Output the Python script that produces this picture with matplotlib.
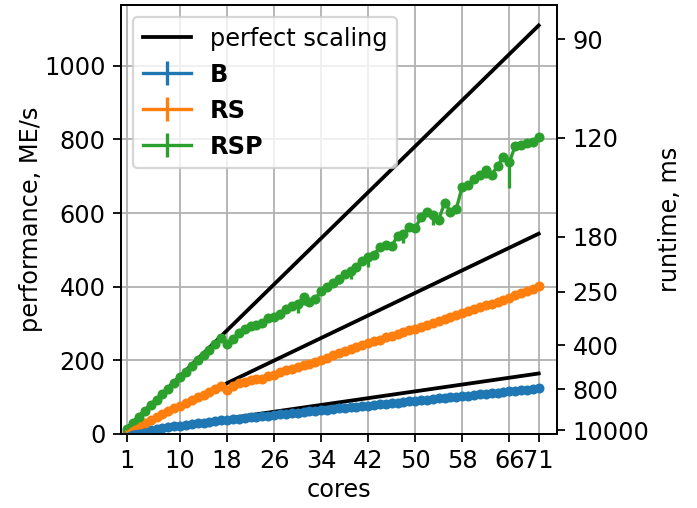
import matplotlib
matplotlib.use("Agg")
import matplotlib.pyplot as plt
import numpy as np

plt.rcParams["font.size"] = 10.8
plt.rcParams["lines.linewidth"] = 1.5

# ---- data ------------------------------------------------------------------
cores = np.arange(1, 72)

perf_B = [2.3, 4.6, 6.8, 9.0, 11.2, 13.4, 15.6, 17.8, 20.0, 22.2,
          24.4, 26.5, 28.6, 30.7, 32.7, 34.7, 36.7, 38.5, 40.1, 41.6,
          43.3, 44.9, 46.4, 48.1, 49.7, 51.3, 52.8, 54.5, 56.1, 57.6,
          59.3, 60.9, 62.5, 64.1, 65.6, 67.3, 68.9, 70.5, 72.0, 73.7,
          75.3, 76.9, 78.4, 80.1, 81.7, 83.3, 84.8, 86.5, 88.1, 89.7,
          91.2, 92.9, 94.5, 96.1, 97.6, 99.3, 100.9, 102.5, 104.0, 105.7,
          107.3, 108.9, 110.4, 112.1, 113.7, 115.3, 116.8, 118.5, 120.1, 121.7,
          123.3]

perf_RS = [7.5, 15, 23, 30, 38, 46, 53, 61, 69, 76,
           84, 91, 99, 106, 114, 122, 130, 119, 130, 137,
           142, 147, 149, 150, 156, 161, 168, 173, 176, 181,
           187, 191, 195, 200, 206, 213, 220, 226, 231, 236,
           241, 246, 251, 256, 262, 267, 272, 277, 281, 285,
           291, 296, 302, 307, 313, 318, 323, 328, 333, 339,
           344, 349, 354, 359, 364, 370, 376, 382, 388, 394,
           402]

perf_RSP = [14, 30, 46, 61, 77, 92, 108, 123, 139, 154,
            169, 185, 200, 214, 229, 244, 260, 244, 258, 274,
            284, 294, 297, 301, 316, 318, 326, 340, 348, 352,
            372, 358, 366, 388, 398, 410, 422, 434, 442, 452,
            470, 480, 487, 508, 514, 510, 538, 543, 562, 560,
            588, 604, 596, 582, 628, 604, 612, 672, 675, 692,
            704, 716, 704, 728, 752, 738, 782, 786, 790, 794,
            806]

# lower error (mean - min) of the RSP runs; all other spreads are tiny
err_RSP = [0, 0, 0, 0, 0, 0, 0, 0, 0, 0,
           0, 0, 0, 0, 0, 0, 0, 0, 0, 0,
           0, 0, 0, 0, 0, 0, 15, 0, 0, 25,
           22, 0, 0, 0, 0, 0, 15, 0, 22, 0,
           0, 28, 0, 0, 0, 0, 0, 25, 0, 0,
           0, 0, 28, 0, 0, 0, 0, 0, 0, 0,
           0, 20, 0, 0, 0, 70, 0, 0, 0, 0,
           0]

series = [("B", perf_B, None), ("RS", perf_RS, None), ("RSP", perf_RSP, err_RSP)]
colors = ["C0", "C1", "C2"]

# single-core throughput used for the "perfect scaling" references
ideal_per_core = [2.31, 7.66, 15.63]
ideal_from = [18, 18, 1]

xticks = [1, 10, 18, 26, 34, 42, 50, 58, 66, 71]
runtime_ticks = [90, 120, 180, 250, 400, 800, 10000]
WORK = 96500.0   # ME/s * ms  ->  perf = WORK / runtime

# ---- figure -----------------------------------------------------------------
fig, ax = plt.subplots(figsize=(697 / 160, 508 / 160), dpi=160)
fig.subplots_adjust(left=0.174, right=0.799, bottom=0.146, top=0.990)

for i, (slope, n0) in enumerate(zip(ideal_per_core, ideal_from)):
    n = np.array([n0, 71])
    ax.plot(n, slope * n, color="black", lw=1.7, zorder=2,
            label="perfect scaling" if i == 0 else None)

for (name, vals, err), c in zip(series, colors):
    vals = np.asarray(vals, float)
    if err is None:
        yerr = np.zeros_like(vals)
    else:
        yerr = np.vstack([np.asarray(err, float), np.zeros_like(vals)])
    ax.errorbar(cores, vals, yerr=yerr, color=c, label=name, zorder=3)
    ax.plot(cores, vals, ".", color=c, ms=7, zorder=3)

ax.set_xlim(0, 74.1)
ax.set_ylim(bottom=0)
ax.set_xticks(xticks)
ax.grid(True)
ax.set_axisbelow(True)
ax.set_xlabel("cores", labelpad=2)
ax.set_ylabel("performance, ME/s", labelpad=0.5)

leg = ax.legend(loc="upper left")
for t in leg.get_texts()[1:]:
    t.set_fontweight("bold")

ax2 = ax.twinx()
ax2.set_ylim(ax.get_ylim())
ax2.set_yticks([WORK / r for r in runtime_ticks])
ax2.set_yticklabels([str(r) for r in runtime_ticks])
ax2.set_ylabel("runtime, ms")

fig.savefig("out.png", dpi=160)
